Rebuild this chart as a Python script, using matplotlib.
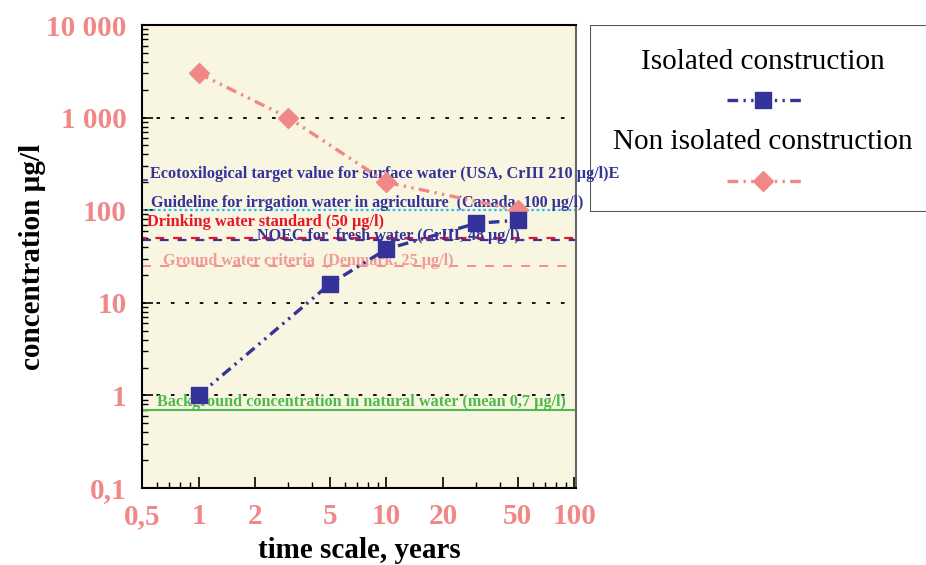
import matplotlib
matplotlib.use("Agg")
import matplotlib.pyplot as plt
from matplotlib.patches import Rectangle
import numpy as np

plt.rcParams['font.family'] = ['Liberation Serif', 'DejaVu Serif']

# leaching of chromium over time, concentration in ug/l
years_iso = [1, 5, 10, 30, 50]
conc_iso = [1, 16, 38, 72, 78]
years_non = [1, 3, 10, 50]
conc_non = [3000, 1000, 200, 100]

# reference levels: (label, value)
ecotox = ("Ecotoxilogical target value for surface water (USA, CrIII 210 µg/l)E", 210)
irrigation = ("Guideline for irrgation water in agriculture  (Canada, 100 µg/l)", 100)
drinking = ("Drinking water standard (50 µg/l)", 50)
noec = ("NOEC for  fresh water (CrIII, 48 µg/l)", 48)
ground = ("Ground water criteria  (Denmark, 25 µg/l)", 25)
background = ("Background concentration in natural water (mean 0,7 µg/l)", 0.7)

xticks = [0.5, 1, 2, 5, 10, 20, 50, 100]
xtick_labels = ["0,5", "1", "2", "5", "10", "20", "50", "100"]
xminor = [0.6, 0.7, 0.8, 0.9, 3, 4, 6, 7, 8, 9, 30, 40, 60, 70, 80, 90]
yticks = [0.1, 1, 10, 100, 1000, 10000]
ytick_labels = ["0,1", "1", "10", "100", "1 000", "10 000"]

navy = "#333399"
salmon = "#F08888"
red = "#E8152B"
cyan = "#33BBEE"
green = "#4CBB4C"
pink_txt = "#F29A9A"

fig = plt.figure(figsize=(9.26, 5.65), dpi=100)
ax = fig.add_axes([142 / 926, 1 - 488 / 565, 434 / 926, 463 / 565])
ax.set_zorder(2)
ax.set_facecolor("#F8F5E1")
ax.set_xscale("log")
ax.set_yscale("log")
ax.set_xlim(0.5, 102)
ax.set_ylim(0.1, 10000)

# dotted grid at each decade
for v in [1, 10, 1000]:
    ax.axhline(v, color="black", lw=1.3, ls=(0, (2, 6)), zorder=1)

trans = ax.get_yaxis_transform()
ax.plot([0, 0.012], [ecotox[1]] * 2, color=navy, lw=1.2, transform=trans, zorder=2)
ax.axhline(noec[1], color=navy, lw=1.6, ls=(0, (4, 4)), zorder=2)
ax.axhline(drinking[1], color=red, lw=1.6, ls=(2, (4, 4)), zorder=2)
ax.axhline(ground[1], color=salmon, lw=1.3, ls=(0, (5, 5)), zorder=2)
ax.axhline(irrigation[1], color=cyan, lw=1.6, ls=(0, (1.2, 1.2)), zorder=2)
ax.axhline(background[1], color=green, lw=1.5, zorder=2)

# labels may run past the frame and over the legend panel
tkw = dict(fontweight="bold", va="center", transform=trans, zorder=3, clip_on=False)
ax.text(0.018, 244, ecotox[0], color=navy, fontsize=11.7, **tkw)
ax.text(0.02, 121, irrigation[0], color=navy, fontsize=11.6, **tkw)
ax.text(0.012, 74, drinking[0], color=red, fontsize=11.8, **tkw)
ax.text(0.265, 52, noec[0], color=navy, fontsize=11.6, **tkw)
ax.text(0.048, 28, ground[0], color=pink_txt, fontsize=11.6, **tkw)
ax.text(0.035, 0.84, background[0], color=green, fontsize=11.7, **tkw)

dash = (0, (3.2, 1.6, 0.7, 1.6, 0.7, 1.6))
ax.plot(years_non, conc_non, color=salmon, lw=2.4, ls=dash, marker="D",
        ms=10, mec=salmon, zorder=4)
ax.plot(years_iso, conc_iso, color=navy, lw=2.4, ls=dash, marker="s",
        ms=11, mec=navy, zorder=5)

ax.set_xticks(xticks)
ax.set_xticklabels(xtick_labels)
ax.set_xticks(xminor, minor=True)
ax.set_xticklabels([], minor=True)
ax.set_yticks(yticks)
ax.set_yticklabels(ytick_labels)
ax.tick_params(which="both", direction="in", top=False, right=False,
               colors="black", labelcolor=salmon, labelsize=21)
ax.tick_params(which="major", length=8, width=1.2, pad=11)
ax.tick_params(which="minor", length=4.5, width=1.0)
for lab in ax.get_xticklabels() + ax.get_yticklabels():
    lab.set_fontweight("bold")
for s in ax.spines.values():
    s.set_linewidth(1.5)
ax.spines["right"].set_color("#666666")

ax.set_xlabel("time scale, years", fontsize=21, fontweight="bold", labelpad=5)
ax.set_ylabel("concentration µg/l", fontsize=21, fontweight="bold", labelpad=0.5)

# legend panel drawn by hand
lg = fig.add_axes([590 / 926, 1 - 212 / 565, 360 / 926, 187 / 565])
lg.set_zorder(1)
lg.set_xlim(590, 950)
lg.set_ylim(212, 25)
lg.axis("off")
lg.add_patch(Rectangle((590, 25), 360, 187, fc="white", ec="#555555", lw=1.5))
lg.text(763, 62, "Isolated construction", fontsize=21, ha="center", va="center")
lg.text(763, 142, "Non isolated construction", fontsize=21, ha="center", va="center")
lg.plot([727, 803], [100, 100], color=navy, lw=2.4, ls=dash)
lg.plot([763], [100], marker="s", ms=11, color=navy)
lg.plot([727, 803], [181, 181], color=salmon, lw=2.4, ls=dash)
lg.plot([763], [181], marker="D", ms=10, color=salmon)

fig.savefig("out.png", dpi=100)
